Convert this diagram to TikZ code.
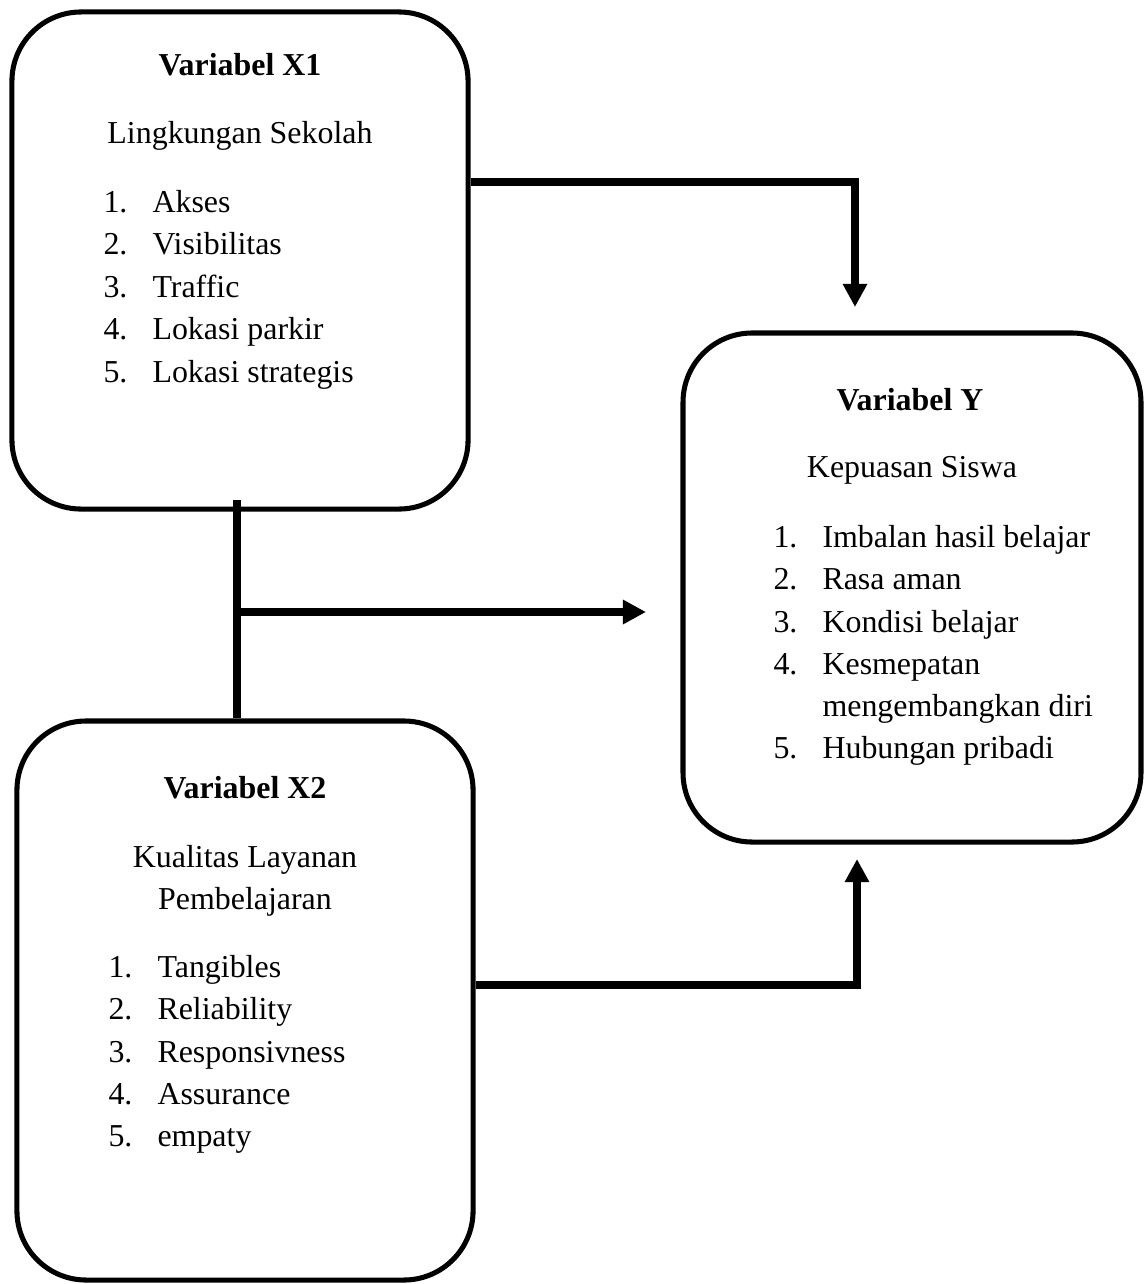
\documentclass[tikz,border=0pt]{standalone}
\usepackage{fontspec}
\setmainfont{Liberation Serif}
\usetikzlibrary{arrows.meta, positioning}

\tikzset{
  varbox/.style={draw, line width=1.9pt, rounded corners=26pt, inner sep=0pt},
  conn/.style={line width=3pt},
  connarrow/.style={conn, -{Triangle[length=8.7pt, width=8.7pt]}},
  vartitle/.style={font=\fontsize{12}{15}\selectfont\bfseries, inner sep=0pt, anchor=base},
  vartext/.style={font=\fontsize{12}{15}\selectfont, inner sep=0pt, anchor=base},
  itemtext/.style={vartext, anchor=base west},
}

\begin{document}
\begin{tikzpicture}[x=0.376pt, y=-0.376pt]
    \useasboundingbox (0,0) rectangle (1144,1284);

    % Boxes
    \node[varbox, minimum width=171.5pt, minimum height=186.9pt] (x1) at (240,260.5) {};
    \node[varbox, minimum width=172.2pt, minimum height=191.4pt] (y) at (912,587.5) {};
    \node[varbox, minimum width=171.5pt, minimum height=210.2pt] (x2) at (245,1000.5) {};

    % Variabel X1
    \node[vartitle] (x1title) at (240,75) {Variabel X1};
    \node[vartext] (x1name) at (240,143) {Lingkungan Sekolah};
    \node[itemtext] (x1n1) at (103,212) {1.};
    \node[itemtext] (x1i1) at (152,212) {Akses};
    \node[itemtext] (x1n2) at (103,254.5) {2.};
    \node[itemtext] (x1i2) at (152,254.5) {Visibilitas};
    \node[itemtext] (x1n3) at (103,297) {3.};
    \node[itemtext] (x1i3) at (152,297) {Traffic};
    \node[itemtext] (x1n4) at (103,339.5) {4.};
    \node[itemtext] (x1i4) at (152,339.5) {Lokasi parkir};
    \node[itemtext] (x1n5) at (103,382) {5.};
    \node[itemtext] (x1i5) at (152,382) {Lokasi strategis};

    % Variabel Y
    \node[vartitle] (ytitle) at (910,410) {Variabel Y};
    \node[vartext] (yname) at (912,477) {Kepuasan Siswa};
    \node[itemtext] (yn1) at (773,547) {1.};
    \node[itemtext] (yi1) at (822,547) {Imbalan hasil belajar};
    \node[itemtext] (yn2) at (773,589.5) {2.};
    \node[itemtext] (yi2) at (822,589.5) {Rasa aman};
    \node[itemtext] (yn3) at (773,632) {3.};
    \node[itemtext] (yi3) at (822,632) {Kondisi belajar};
    \node[itemtext] (yn4) at (773,674) {4.};
    \node[itemtext] (yi4) at (822,674) {Kesmepatan};
    \node[itemtext] (yi4b) at (822,716) {mengembangkan diri};
    \node[itemtext] (yn5) at (773,758) {5.};
    \node[itemtext] (yi5) at (822,758) {Hubungan pribadi};

    % Variabel X2
    \node[vartitle] (x2title) at (245,798) {Variabel X2};
    \node[vartext] (x2name) at (245,867) {Kualitas Layanan};
    \node[vartext] (x2name2) at (245,909) {Pembelajaran};
    \node[itemtext] (x2n1) at (108,977) {1.};
    \node[itemtext] (x2i1) at (157,977) {Tangibles};
    \node[itemtext] (x2n2) at (108,1019.5) {2.};
    \node[itemtext] (x2i2) at (157,1019.5) {Reliability};
    \node[itemtext] (x2n3) at (108,1062) {3.};
    \node[itemtext] (x2i3) at (157,1062) {Responsivness};
    \node[itemtext] (x2n4) at (108,1104) {4.};
    \node[itemtext] (x2i4) at (157,1104) {Assurance};
    \node[itemtext] (x2n5) at (108,1146) {5.};
    \node[itemtext] (x2i5) at (157,1146) {empaty};

    % Connectors
    \coordinate (k1) at (855,182);
    \coordinate (t1) at (855,307);
    \draw[connarrow] (x1.east |- k1) -| (t1);

    \coordinate (j) at (237,612);
    \coordinate (t2) at (646,612);
    \draw[conn] (237,500) -- (j) -- (x2.north -| j);
    \draw[connarrow] (j) -- (t2);

    \coordinate (k3) at (857,985);
    \coordinate (t3) at (857,859);
    \draw[connarrow] (x2.east |- k3) -| (t3);
\end{tikzpicture}
\end{document}
